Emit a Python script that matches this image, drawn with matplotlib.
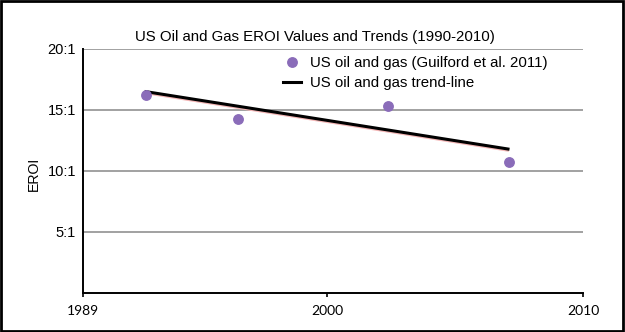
import matplotlib
matplotlib.use("Agg")
import matplotlib.pyplot as plt
from matplotlib.patches import Rectangle

# data
point_years = [1991.65, 1995.5, 2001.8, 2006.9]
point_eroi = [16.2, 14.3, 15.3, 10.7]
trend_years = [1991.65, 2006.85]
trend_eroi = [16.5, 11.8]
pink_eroi = [16.35, 11.65]

y_ticks = [5, 10, 15, 20]
y_labels = ["5:1", "10:1", "15:1", "20:1"]
x_ticks = [1989, 1999.25, 2010]
x_labels = ["1989", "2000", "2010"]

plt.rcParams['font.family'] = ['Liberation Sans', 'DejaVu Sans']

fig = plt.figure(figsize=(6.25, 3.32), dpi=100)
ax = fig.add_axes([0.1328, 0.1175, 0.8, 0.735])

for y in y_ticks:
    ax.axhline(y, color='#9a9a9a', lw=1.3, zorder=1)

ax.plot(trend_years, pink_eroi, color='#f4b6b6', lw=1.2, zorder=2)
ax.plot(trend_years, trend_eroi, color='black', lw=2.2, zorder=3,
        label='US oil and gas trend-line')
ax.plot(point_years, point_eroi, 'o', color='#8a6cb9', ms=6.8, zorder=4,
        label='US oil and gas (Guilford et al. 2011)')

ax.set_xlim(1989, 2010)
ax.set_ylim(0, 20)
ax.set_yticks(y_ticks)
ax.set_yticklabels(y_labels, fontsize=10.5)
ax.tick_params(axis='y', length=0, pad=5)
ax.set_xticks(x_ticks)
ax.set_xticklabels(x_labels, fontsize=10, family=['Lato', 'DejaVu Sans'])
ax.tick_params(axis='x', length=3, width=1.2, pad=6)

for s in ['top', 'right']:
    ax.spines[s].set_visible(False)
for s in ['left', 'bottom']:
    ax.spines[s].set_linewidth(1.4)
    ax.spines[s].set_color('black')

ax.set_ylabel('EROI', fontsize=10.2)
ax.yaxis.set_label_coords(-0.084, 0.49)
fig.text(0.504, 1 - 37 / 332, 'US Oil and Gas EROI Values and Trends (1990-2010)',
         ha='center', va='center', fontsize=10.8)

h, l = ax.get_legend_handles_labels()
ax.legend(h[::-1], l[::-1], loc='upper left', bbox_to_anchor=(283 / 625, 1 - 56 / 332),
          bbox_transform=fig.transFigure, frameon=False, fontsize=10.8,
          borderpad=0, borderaxespad=0, handlelength=1.2, handletextpad=0.6,
          labelspacing=0.4)

fig.patches.append(Rectangle((0.002, 0.003), 0.995, 0.993, transform=fig.transFigure,
                             fill=False, edgecolor='black', lw=2))

fig.savefig('out.png', dpi=100)
